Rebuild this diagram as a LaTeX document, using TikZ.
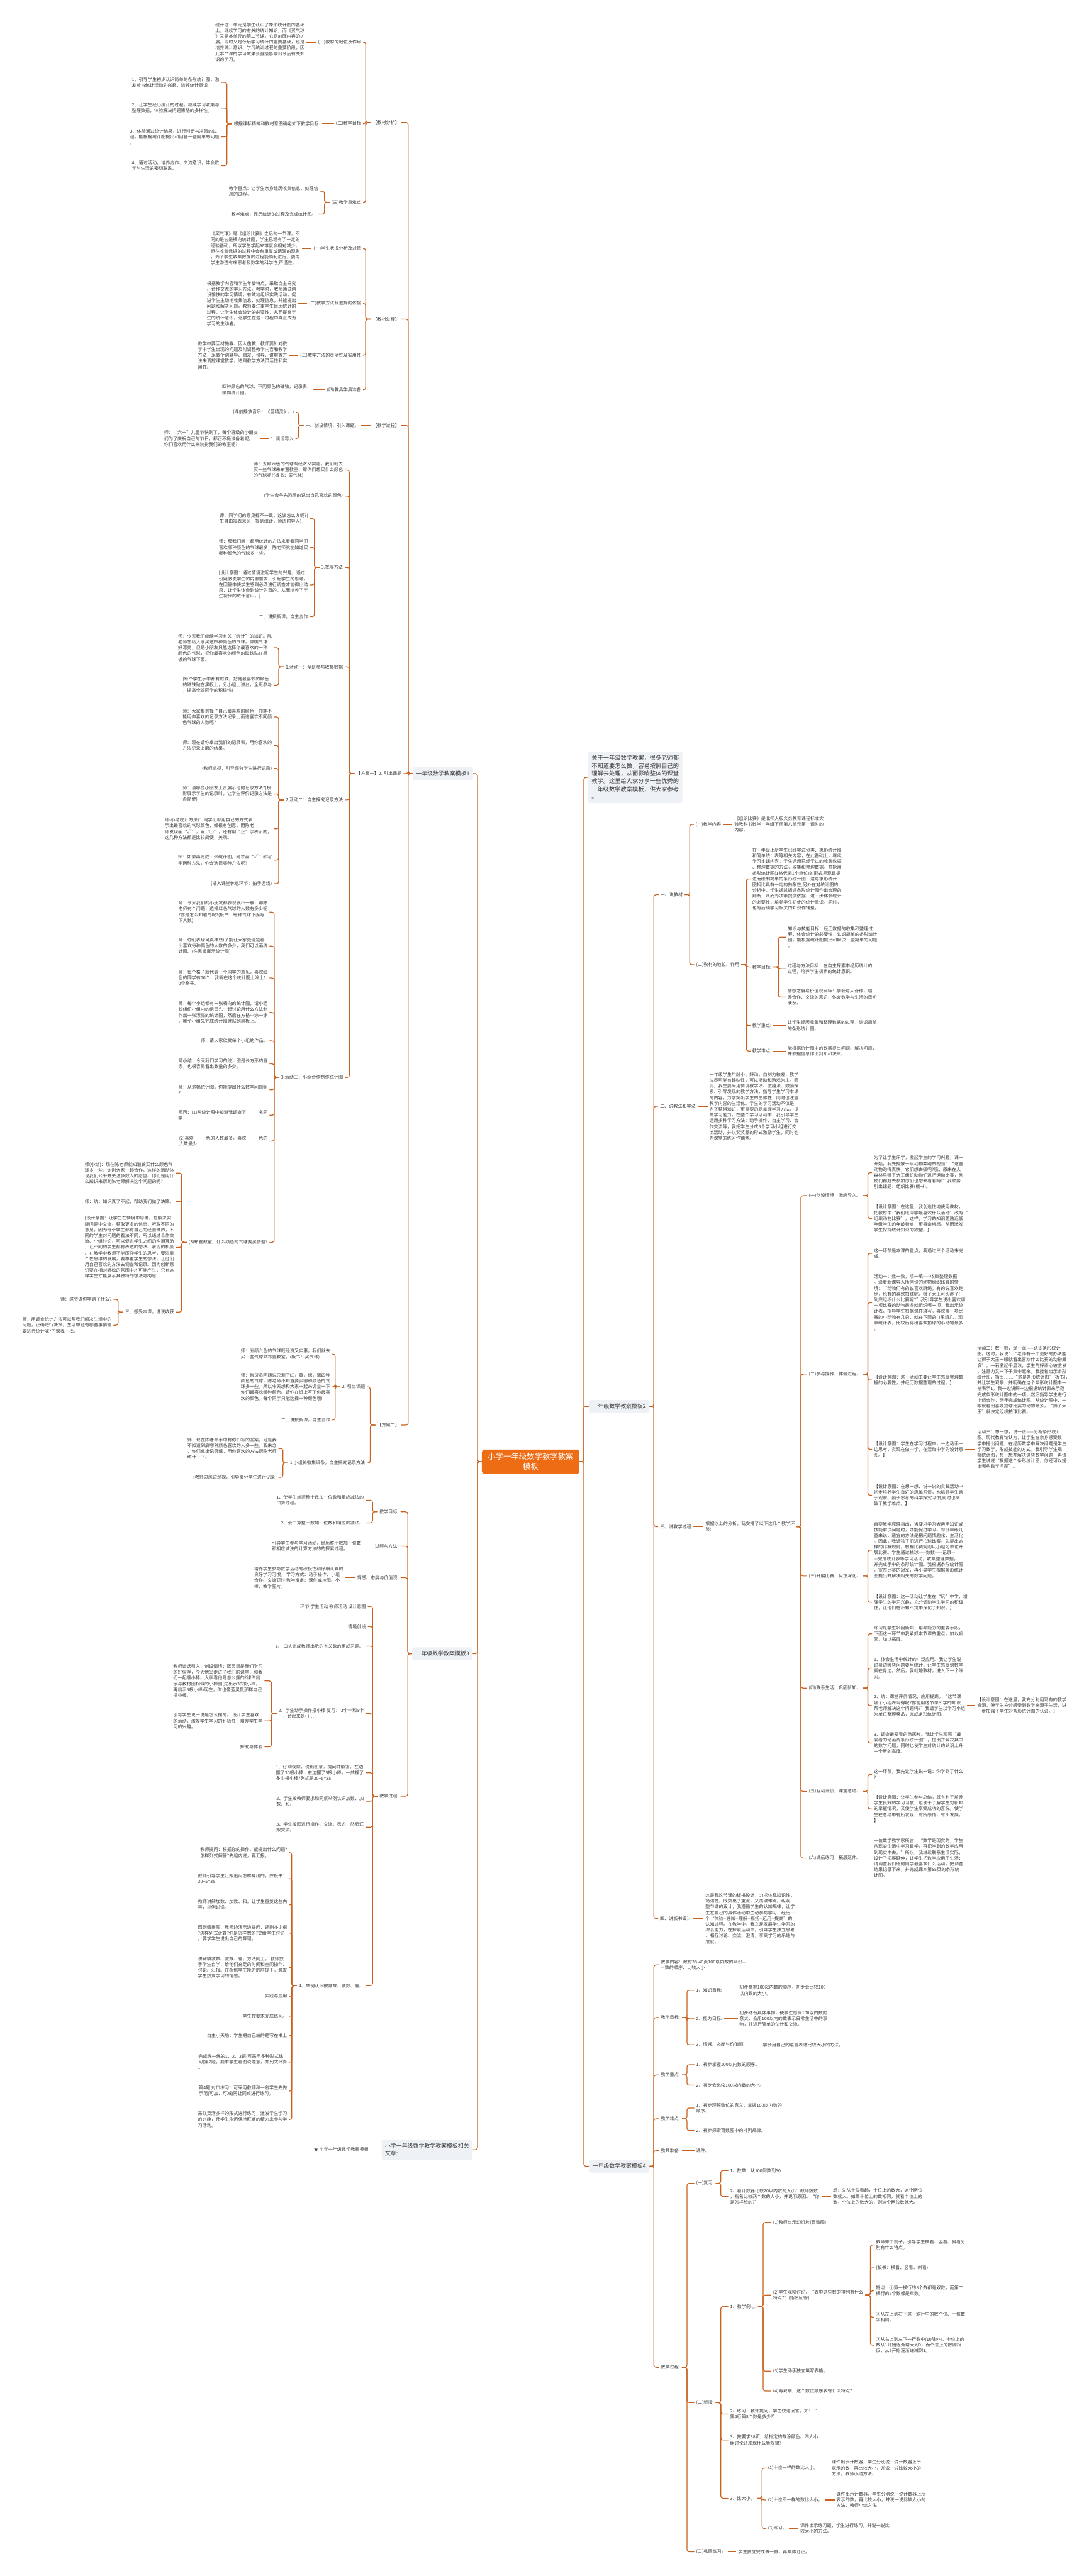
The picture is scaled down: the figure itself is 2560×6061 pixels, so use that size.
\documentclass[tikz,border=0pt]{standalone}
\usepackage{fontspec}
\setmainfont{Noto Sans CJK SC}
\definecolor{lnkc}{HTML}{C9621E}
\definecolor{rootc}{HTML}{EE6C14}
\definecolor{boxc}{HTML}{EEF1F5}
\definecolor{txtc}{HTML}{3A3A3A}
\begin{document}
\begin{tikzpicture}[x=0.5pt, y=-0.5pt,
  rootbox/.style={fill=rootc, text=white, rounded corners=3pt, inner xsep=7pt, inner ysep=4pt, align=center, font=\fontsize{9.15}{12}\selectfont},
  topic/.style={fill=boxc, text=txtc, rounded corners=2.5pt, inner xsep=4pt, inner ysep=4.5pt, align=left, font=\fontsize{6.6}{9}\selectfont},
  txt/.style={text=txtc, inner sep=2pt, align=left, font=\fontsize{5.25}{6.8}\selectfont},
  lt/.style={txt, anchor=east},
  rt/.style={txt, anchor=west},
  lnk/.style={draw=lnkc, line width=0.9pt, rounded corners=2.5pt}]
\useasboundingbox[fill=white] (0,0) rectangle (2560,6061);

\node[rootbox] (root) at (1248,3439) {小学一年级数学教学教案\\模板};
\node[topic, anchor=east] (m1) at (1113,1820) {一年级数学教案模板1};
\node[topic, anchor=east] (m3) at (1112,3891) {一年级数学教案模板3};
\node[topic, anchor=east] (rel) at (1112,5058) {小学一年级数学教学教案模板相关\\文章:};
\node[topic, anchor=west, font=\fontsize{6.85}{9.1}\selectfont] (intro) at (1383,1829) {关于一年级数学教案，很多老师都\\不知道要怎么做，容易按照自己的\\理解去处理，从而影响整体的课堂\\教学。这里给大家分享一些优秀的\\一年级数学教案模板，供大家参考\\。};
\node[topic, anchor=west] (m2) at (1385,3309) {一年级数学教案模板2};
\node[topic, anchor=west] (m4) at (1385,5097) {一年级数学教案模板4};
\foreach \c in {m1,m3,rel} \draw[lnk] (root.west) -- ++(-10,0) |- (\c.east);
\foreach \c in {intro,m2,m4} \draw[lnk] (root.east) -- ++(10,0) |- (\c.west);

% 模板1
\node[lt] (fx) at (944,288) {【教材分析】};
\node[lt] (fc) at (944,751) {【教材处理】};
\node[lt] (gc) at (944,1001) {【教学过程】};
\node[lt] (f1) at (949,1820) {【方案一】2. 引出课题};
\node[lt] (f2) at (944,3353) {【方案二】};
\foreach \c in {fx,fc,gc,f1,f2} \draw[lnk] (m1.west) -- ++(-10,0) |- (\c.east);

\node[lt] (fx1) at (854,99) {(一)教材的地位及作用};
\node[lt] (fx1a) at (721,99) {统计这一单元是学生认识了象形统计图的基础\\上，继续学习的有关的统计知识，而《买气球\\》又是本单元的第二节课，它是前面内容的扩\\展，同时又是今后学习统计的重要基础，也是\\培养统计意识、学习统计过程的重要阶段，因\\此本节课的学习效果会直接影响到今后有关知\\识的学习。};
\node[lt] (fx2) at (854,291) {(二)教学目标};
\node[lt] (fx2a) at (757,291) {根据课标精神和教材意图确定如下教学目标:};
\node[lt] (g1) at (520,194) {1、引导学生初步认识简单的条形统计图，激\\发参与统计活动的兴趣，培养统计意识。};
\node[lt] (g2) at (520,254) {2、让学生经历统计的过程，继续学习收集与\\整理数据，体验解决问题策略的多样性。};
\node[lt] (g3) at (520,322) {3、体验通过统计结果，进行判断与决策的过\\程，能根据统计图提出和回答一些简单的问题\\。};
\node[lt] (g4) at (520,390) {4、通过活动，培养合作、交流意识，体会数\\学与生活的密切联系。};
\node[lt] (fx3) at (854,476) {(三)教学重难点};
\node[lt] (fx3a) at (753,450) {教学重点：让学生亲身经历收集信息、处理信\\息的过程。};
\node[lt] (fx3b) at (748,504) {教学难点：经历统计的过程及完成统计图。};
\foreach \c in {fx1,fx2,fx3} \draw[lnk] (fx.west) -- ++(-12,0) |- (\c.east);
\draw[lnk] (fx1.west) -- (fx1a.east);
\draw[lnk] (fx2.west) -- (fx2a.east);
\foreach \c in {g1,g2,g3,g4} \draw[lnk] (fx2a.west) -- ++(-12,0) |- (\c.east);
\foreach \c in {fx3a,fx3b} \draw[lnk] (fx3.west) -- ++(-12,0) |- (\c.east);

\node[lt] (fc1) at (854,585) {(一)学生状况分析及对策};
\node[lt] (fc1a) at (710,585) {《买气球》是《组织比赛》之后的一节课，不\\同的是它是横向统计图，学生已经有了一定的\\经验基础，所以学生学起来难度会相对减少。\\但在收集数据的过程中会有重复或遗漏的现象\\，为了学生收集数据的过程能顺利进行，要向\\学生渗透有序思考及数学的科学性,严谨性。};
\node[lt] (fc2) at (854,714) {(二)教学方法及选择的依据};
\node[lt] (fc2a) at (701,714) {根据教学内容和学生年龄特点，采取自主探究\\、合作交流的学习方法。教学时，教师通过创\\设愉快的学习情境，有效地组织实践活动，促\\进学生主动地收集信息、处理信息，并能提出\\问题和解决问题。教师要注重学生经历统计的\\过程，让学生体会统计的必要性，从而提高学\\生的统计意识，让学生在这一过程中真正成为\\学习的主动者。};
\node[lt] (fc3) at (854,836) {(三)教学方法的灵活性及实用性};
\node[lt] (fc3a) at (680,836) {教学中要因材施教、因人施教，教师要针对教\\学中学生出现的问题及时调整教学内容和教学\\方法，采取个别辅导、启发、引导、讲解等方\\法来调控课堂教学，达到教学方法灵活性和实\\用性。};
\node[lt] (fc4) at (854,917) {(四)教具学具准备};
\node[lt] (fc4a) at (737,917) {四种颜色的气球，不同颜色的磁铁，记录表，\\横向统计图。};
\foreach \c in {fc1,fc2,fc3,fc4} \draw[lnk] (fc.west) -- ++(-12,0) |- (\c.east);
\draw[lnk] (fc1.west) -- (fc1a.east);
\draw[lnk] (fc2.west) -- (fc2a.east);
\draw[lnk] (fc3.west) -- (fc3a.east);
\draw[lnk] (fc4.west) -- (fc4a.east);

\node[lt] (gc1) at (849,1001) {一、创设情境，引入课题。};
\node[lt] (gc1a) at (696,970) {(课前播放音乐：《蓝精灵》。)};
\node[lt] (gc1b) at (695,1032) {1. 谈话导入};
\node[lt] (gc1c) at (611,1032) {师：“六一”儿童节快到了，每个班级的小朋友\\们为了庆祝自己的节日，都正积极准备着呢。\\你们喜欢用什么来装扮我们的教室呢?};
\draw[lnk] (gc.west) -- (gc1.east);
\foreach \c in {gc1a,gc1b} \draw[lnk] (gc1.west) -- ++(-12,0) |- (\c.east);
\draw[lnk] (gc1b.west) -- (gc1c.east);

% 方案一
\node[lt] (a1) at (811,1106) {师：五颜六色的气球既经济又实惠，我们就去\\买一些气球来布置教室，那你们想买什么颜色\\的气球呢?(板书：买气球)};
\node[lt] (a2) at (811,1167) {(学生会争先恐后的说出自己喜欢的颜色)};
\node[lt] (a3) at (811,1335) {3.找寻方法};
\node[lt] (a4) at (811,1569) {1.活动一：全班参与收集数据};
\node[lt] (a5) at (811,1882) {2.活动二：自主探究记录方法};
\node[lt] (a6) at (811,2535) {3.活动三：小组合作制作统计图};
\foreach \c in {a1,a2,a3,a4,a5,a6} \draw[lnk] (f1.west) -- ++(-12,0) |- (\c.east);

\node[lt] (a3a) at (729,1220) {师：同学们的意见都不一致，这该怎么办呢?(\\生自由发表意见，提到统计，师适时导入)};
\node[lt] (a3b) at (729,1288) {师：那我们就一起用统计的方法来看看同学们\\喜欢哪种颜色的气球最多，陈老师就能知道买\\哪种颜色的气球多一些。};
\node[lt] (a3c) at (729,1376) {[设计意图：通过情境激起学生的兴趣，通过\\设疑激发学生的内部需求，引起学生的思考，\\在回答中使学生感到必须进行调查才能得出结\\果，让学生体会到统计的目的，从而培养了学\\生初步的统计意识。]};
\node[lt] (a3d) at (729,1451) {二、讲授新课，自主合作};
\foreach \c in {a3a,a3b,a3c,a3d} \draw[lnk] (a3.west) -- ++(-12,0) |- (\c.east);

\node[lt] (a4a) at (644,1524) {师：今天我们继续学习有关“统计”的知识。陈\\老师想给大家买这四种颜色的气球，你瞧气球\\好漂亮，但是小朋友只能选择你最喜欢的一种\\颜色的气球，把你最喜欢的颜色的磁铁贴在黑\\板的气球下面。};
\node[lt] (a4b) at (644,1612) {(每个学生手中都有磁铁，把他最喜欢的颜色\\的磁铁贴在黑板上，分小组上讲台，全班参与\\，提高全班同学的积极性)};
\foreach \c in {a4a,a4b} \draw[lnk] (a4.west) -- ++(-12,0) |- (\c.east);

\node[lt] (a5a) at (644,1687) {师：大家都选择了自己最喜欢的颜色，你能不\\能用你喜欢的记录方法记录上面这喜欢不同颜\\色气球的人数呢?};
\node[lt] (a5b) at (644,1754) {师：现在请你拿出我们的记录表，用你喜欢的\\方法记录上面的结果。};
\node[lt] (a5c) at (644,1808) {(教师巡视，引导部分学生进行记录)};
\node[lt] (a5d) at (644,1868) {师：请哪位小朋友上台展示他的记录方法?(投\\影展示学生的记录时，让学生评价记录方法是\\否简便)};
\node[lt] (a5e) at (644,1950) {师(小结统计方法)：同学们都用自己的方式表\\示出最喜欢的气球颜色，都很有创意，而陈老\\师发现画“√”，画“○”，还有用“正”字表示的，\\这几种方法都是比较简便，美观。};
\node[lt] (a5f) at (644,2024) {师：如果再完成一张统计图，刚才画“√”和写\\字两种方法，你会选择哪种方法呢?};
\node[lt] (a5g) at (644,2079) {(插入课堂休息环节：拍手游戏)};
\foreach \c in {a5a,a5b,a5c,a5d,a5e,a5f,a5g} \draw[lnk] (a5.west) -- ++(-12,0) |- (\c.east);

\node[lt] (a6a) at (634,2146) {师：今天我们的小朋友都表现很不一般，那陈\\老师有个问题，选择红色气球的人数有多少呢\\?你是怎么知道的呢?(板书：每种气球下面写\\下人数)};
\node[lt] (a6b) at (634,2226) {师：你们表现可真棒!为了能让大家更清楚看\\出喜欢每种颜色的人数的多少，我们可以画统\\计图。(在黑板展示统计图)};
\node[lt] (a6c) at (634,2301) {师：每个格子就代表一个同学的意见，喜欢红\\色的同学有10个，我就在这个统计图上涂上1\\0个格子。};
\node[lt] (a6d) at (634,2382) {师：每个小组都有一张横向的统计图，请小组\\长组织小组内的组员先一起讨论用什么方法制\\作出一张漂亮的统计图，然后在方格中涂一涂\\。哪个小组先完成统计图就贴到黑板上。};
\node[lt] (a6e) at (634,2449) {师：请大家欣赏每个小组的作品。};
\node[lt] (a6f) at (634,2503) {师小结：今天我们学习的统计图是长方形的直\\条，也很容易看出数量的多少。};
\node[lt] (a6g) at (634,2564) {师：从这幅统计图，你能提出什么数学问题呢\\?};
\node[lt] (a6h) at (634,2624) {师问：(1)从统计图中知道我调查了\_\_\_\_\_名同\\学.};
\node[lt] (a6i) at (634,2685) {(2)喜欢\_\_\_\_\_色的人数最多，喜欢\_\_\_\_\_色的\\人数最少.};
\node[lt] (a6j) at (634,2923) {(3)布置教室，什么颜色的气球要买多些?};
\foreach \c in {a6a,a6b,a6c,a6d,a6e,a6f,a6g,a6h,a6i,a6j} \draw[lnk] (a6.west) -- ++(-12,0) |- (\c.east);

\node[lt] (b1) at (414,2760) {师(小结)：现在陈老师就知道该买什么颜色气\\球多一些，谢谢大家一起合作，这样的活动体\\现我们公平并关注多数人的愿望。你们是用什\\么知识来帮助陈老师解决这个问题的呢?};
\node[lt] (b2) at (414,2827) {师：统计知识真了不起，帮助我们做了决策。};
\node[lt] (b3) at (414,2935) {[设计意图：让学生在情境中思考，在解决实\\际问题中交流，获取更多的信息，听取不同的\\意见，因为每个学生都有自己的经验世界，不\\同的学生对问题的看法不同，所以通过合作交\\流、小组讨论，可以促进学生之间的沟通互助\\，让不同的学生都有表达的想法、表现的机会\\。在教学中教师不能压抑学生的思考，要注重\\个性思维的发展，要尊重学生的想法，让他们\\用自己喜欢的方法去调查和记录。因为创新意\\识要在相对轻松的氛围中才可能产生，只有这\\样学生才能展示其独特的想法与构思]};
\node[lt] (b4) at (414,3087) {三、感受本课，说说收获};
\foreach \c in {b1,b2,b3,b4} \draw[lnk] (a6j.west) -- ++(-12,0) |- (\c.east);
\node[lt] (b4a) at (267,3057) {师：这节课你学到了什么?};
\node[lt] (b4b) at (267,3118) {师：用调查统计方法可以帮我们解决生活中的\\问题，正确进行决策，生活中还有哪些事情需\\要进行统计呢?下课找一找。};
\foreach \c in {b4a,b4b} \draw[lnk] (b4.west) -- ++(-12,0) |- (\c.east);

% 方案二
\node[lt] (c1) at (863,3263) {2. 引出课题};
\node[lt] (c2) at (863,3442) {1.小组长收集纸条，自主探究记录方法};
\foreach \c in {c1,c2} \draw[lnk] (f2.west) -- ++(-12,0) |- (\c.east);
\node[lt] (c1a) at (781,3186) {师：五颜六色的气球既经济又实惠，我们就去\\买一些气球来布置教室。(板书：买气球)};
\node[lt] (c1b) at (781,3263) {师：售货员阿姨说只剩下红，黄，绿，蓝四种\\颜色的气球，陈老师不知道要买哪种颜色的气\\球多一些，所以今天想和大家一起来调查一下\\你们最喜欢哪种颜色。请你在纸上写下你最喜\\欢的颜色，每个同学只能选择一种颜色哦!};
\node[lt] (c1c) at (781,3341) {二、讲授新课，自主合作};
\foreach \c in {c1a,c1b,c1c} \draw[lnk] (c1.west) -- ++(-12,0) |- (\c.east);
\node[lt] (c2a) at (655,3408) {师：现在陈老师手中有你们写的答案，可是我\\不知道到底哪种颜色喜欢的人多一些，我来念\\，你们拿出记录纸，用你喜欢的方法帮陈老师\\统计一下。};
\node[lt] (c2b) at (655,3476) {(教师边念边巡视，引导部分学生进行记录)};
\foreach \c in {c2a,c2b} \draw[lnk] (c2.west) -- ++(-12,0) |- (\c.east);

% 模板3
\node[lt] (d1) at (942,3557) {教学目标:};
\node[lt] (d2) at (942,3638) {过程与方法:};
\node[lt] (d3) at (942,3712) {情感、态度与价值观:};
\node[lt] (d4) at (942,4226) {教学过程:};
\foreach \c in {d1,d2,d3,d4} \draw[lnk] (m3.west) -- ++(-10,0) |- (\c.east);
\node[lt] (d1a) at (860,3530) {1、使学生掌握整十数加一位数和相应减法的\\口算过程。};
\node[lt] (d1b) at (860,3583) {2、会口算整十数加一位数和相应的减法。};
\foreach \c in {d1a,d1b} \draw[lnk] (d1.west) -- ++(-12,0) |- (\c.east);
\node[lt] (d2a) at (854,3638) {引导学生参与学习活动，经历整十数加一位数\\和相应减法的计算方法的的探索过程。};
\node[lt] (d3a) at (812,3712) {培养学生参与数学活动的积极性和仔细认真的\\良好学习习惯。 学习方式：动手操作、小组\\合作、交流研讨 教学准备：课件或挂图、小\\棒、教学图片。};
\draw[lnk] (d2.west) -- (d2a.east);
\draw[lnk] (d3.west) -- (d3a.east);

\node[lt] (e1) at (865,3780) {环节 学生活动 教师活动 设计意图};
\node[lt] (e2) at (865,3827) {情境创设};
\node[lt] (e3) at (860,3873) {1、 口头完成教师出示的有关数的组成习题。};
\node[lt] (e4) at (860,4032) {2、学生动手操作摆小棒 复习： 3个十和5个\\一，合起来是( )……};
\node[lt] (e5) at (860,4171) {1、仔细观察，说出图意，提问并解答。左边\\摆了30根小棒，右边摆了5根小棒，一共摆了\\多少根小棒?列式是30+5=35};
\node[lt] (e6) at (860,4238) {2、学生按教师要求和同桌举例认识加数、加\\数、和。};
\node[lt] (e7) at (860,4299) {3、学生按图进行操作、交流、表达，然后汇\\报交流。};
\node[lt] (e8) at (860,4672) {4、举例认识被减数、减数、差。};
\foreach \c in {e1,e2,e3,e4,e5,e6,e7,e8} \draw[lnk] (d4.west) -- ++(-12,0) |- (\c.east);
\node[lt] (e4a) at (622,3955) {教师谈话引入，创设情境：蓝灵鼠是我们学习\\的好伙伴，今天他又走进了我们的课堂，和我\\们一起摆小棒。大家看他是怎么摆的?课件出\\示与教材图相似的小棒图(先出示30根小棒，\\再出示5根小棒)现在，你也像蓝灵鼠那样自己\\摆小棒。};
\node[lt] (e4b) at (622,4049) {引导学生说一说是怎么摆的。 设计学生喜欢\\的活动，激发学生学习的积极性，培养学生学\\习的兴趣。};
\node[lt] (e4c) at (622,4110) {探究与体验};
\foreach \c in {e4a,e4b,e4c} \draw[lnk] (e4.west) -- ++(-12,0) |- (\c.east);

\node[lt] (h1) at (680,4359) {教师提问：根据你的操作，能提出什么问题?\\怎样列式解答?先组内说，再汇报。};
\node[lt] (h2) at (680,4420) {教师引导学生汇报追问怎样算出的，并板书：\\30+5=35};
\node[lt] (h3) at (680,4481) {教师讲解加数、加数、和。让学生重复这些内\\容，举例说说。};
\node[lt] (h4) at (680,4548) {回到情景图，教师边演示边提问，还剩多少根\\?怎样列式计算?你是怎样想的?交给学生讨论\\。要求学生说出自己的算理。};
\node[lt] (h5) at (680,4629) {讲解被减数、减数、差。方法同上。 教师放\\手学生自学，给他们充足的时间和空间操作、\\讨论、汇报。在相信学生能力的前提下，激发\\学生热爱学习的情感。};
\node[lt] (h6) at (680,4697) {实践与应用};
\node[lt] (h7) at (680,4744) {学生按要求完成练习。};
\node[lt] (h8) at (680,4790) {自主小天地：学生把自己编的题写在书上};
\node[lt] (h9) at (680,4852) {完成练一练的1、2、3题(可采用多种形式练\\习)第2题，要求学生看图说题意，并列式计算\\。};
\node[lt] (h10) at (680,4920) {第4题 对口练习：可采用教师和一名学生先做\\示范(可加、可减)再让同桌进行练习。};
\node[lt] (h11) at (680,4987) {采取灵活多样的形式进行练习，激发学生学习\\的兴趣，使学生永远保持旺盛的精力来参与学\\习活动。};
\foreach \c in {h1,h2,h3,h4,h5,h6,h7,h8,h9,h10,h11} \draw[lnk] (e8.west) -- ++(-12,0) |- (\c.east);

\node[lt] (rel1) at (871,5058) {★ 小学一年级数学教案模板};
\draw[lnk] (rel.west) -- (rel1.east);

% 模板2
\node[rt] (s1) at (1549,2105) {一、说教材};
\node[rt] (s2) at (1548,2603) {二、说教法和学法};
\node[rt] (s3) at (1548,3592) {三、说教学过程};
\node[rt] (s4) at (1548,4514) {四、说板书设计};
\foreach \c in {s1,s2,s3,s4} \draw[lnk] (m2.east) -- ++(10,0) |- (\c.west);

\node[rt] (s11) at (1632,1940) {(一)教学内容};
\node[rt] (s11a) at (1723,1940) {《组织比赛》是北师大版义务教育课程标准实\\验教科书数学一年级下册第八单元第一课时的\\内容。};
\node[rt] (s12) at (1633,2270) {(二)教材的地位、作用};
\foreach \c in {s11,s12} \draw[lnk] (s1.east) -- ++(12,0) |- (\c.west);
\draw[lnk] (s11.east) -- (s11a.west);
\node[rt] (s12a) at (1765,2068) {在一年级上册学生已经学过分类、象形统计图\\和简单统计表等相关内容，在此基础上，继续\\学习本课内容。学生运用已经学过的收集数据\\、整理数据的方法，收集和整理数据，并能用\\条形统计图(1格代表1个单位)的形式呈现数据\\进而绘制简单的条形统计图，这与象形统计\\图相比具有一定的抽象性;另外在对统计图的\\分析中，学生通过阅读条形统计图作出合理的\\判断，从而为决策提供依据，进一步体会统计\\的必要性，培养学生初步的统计意识。同时，\\也为后续学习相关的知识作铺垫。};
\node[rt] (s12b) at (1765,2275) {教学目标:};
\node[rt] (s12c) at (1765,2413) {教学重点:};
\node[rt] (s12d) at (1765,2473) {教学难点:};
\foreach \c in {s12a,s12b,s12c,s12d} \draw[lnk] (s12.east) -- ++(12,0) |- (\c.west);
\node[rt] (s12b1) at (1849,2205) {知识与技能目标：经历数据的收集和整理过\\程，体会统计的必要性，认识简单的条形统计\\图，能根据统计图提出和解决一些简单的问题\\。};
\node[rt] (s12b2) at (1848,2279) {过程与方法目标：在自主探索中经历统计的\\过程，培养学生初步的统计意识。};
\node[rt] (s12b3) at (1848,2346) {情感态度与价值观目标：学会与人合作，培\\养合作、交流的意识，体会数学与生活的密切\\联系。};
\foreach \c in {s12b1,s12b2,s12b3} \draw[lnk] (s12b.east) -- ++(12,0) |- (\c.west);
\node[rt] (s12c1) at (1848,2413) {让学生经历收集和整理数据的过程，认识简单\\的条形统计图。};
\node[rt] (s12d1) at (1848,2473) {能根据统计图中的数据提出问题、解决问题，\\并依据信息作出判断和决策。};
\draw[lnk] (s12c.east) -- (s12c1.west);
\draw[lnk] (s12d.east) -- (s12d1.west);

\node[rt] (s2a) at (1664,2603) {一年级学生年龄小、好动、自制力较差，教学\\应尽可能有趣味性，可以活动和游戏为主。因\\此，我主要采用情境教学法、激趣法、鼓励探\\索、引导发现的教学方法，指导学生学习本课\\的内容，力求突出学生的主体性，同时也注重\\教学内容的生活化。学生的学习活动不仅是\\为了获得知识，更重要的是掌握学习方法，提\\高学习能力。在整个学习活动中，我引导学生\\运用多种学习方法：动手操作、自主学习、合\\作交流等，我把学生分成5个学习小组进行交\\流活动，并以奖奖品的形式激励学生，同时也\\为课堂的练习作铺垫。};
\draw[lnk] (s2.east) -- (s2a.west);

\node[rt] (s3a) at (1655,3592) {根据以上的分析，我安排了以下这几个教学环\\节:};
\draw[lnk] (s3.east) -- (s3a.west);
\node[rt] (p1) at (1898,2813) {(一)创设情境，激趣导入。};
\node[rt] (p2) at (1898,3233) {(二)参与操作，体验过程。};
\node[rt] (p3) at (1898,3708) {(三)开展比赛，反馈深化。};
\node[rt] (p4) at (1898,3972) {(四)联系生活，巩固新知。};
\node[rt] (p5) at (1898,4215) {(五)互动评价，课堂总结。};
\node[rt] (p6) at (1898,4372) {(六)课后练习，拓展延伸。};
\foreach \c in {p1,p2,p3,p4,p5,p6} \draw[lnk] (s3a.east) -- ++(10,0) |- (\c.west);

\node[rt] (p1a) at (2051,2759) {为了让学生乐学，激起学生的学习兴趣，课一\\开始，我先播放一段动物奔跑的视频：“这些\\动物跑得真快，它们想去哪呢?哦，原来在大\\森林里狮子大王组织动物们进行运动比赛，动\\物们都赶去参加你们也想去看看吗?”我顺势\\引出课题：组织比赛(板书)。};
\node[rt] (p1b) at (2051,2867) {【设计意图：在这里，我创造性地使用教材，\\把教材中“我们班同学最喜欢什么活动”改为“\\组织动物比赛”，这样，学习的知识更贴近低\\年级学生的年龄特点，更具亲切感，从而激发\\学生探究统计知识的欲望。】};
\foreach \c in {p1a,p1b} \draw[lnk] (p1.east) -- ++(12,0) |- (\c.west);

\node[rt] (p2a) at (2051,2949) {这一环节是本课的重点，我通过三个活动来完\\成。};
\node[rt] (p2b) at (2051,3065) {活动一：数一数，填一填——收集整理数据\\。沿着新课导入所创设的动物组织比赛的情\\境：“动物们有的说喜欢跳绳，有的说喜欢跑\\步，也有的喜欢拍球呢，狮子大王可头疼了!\\到底组织什么比赛呢?”我引导学生说出喜欢哪\\一项比赛的动物最多就组织哪一项。我出示统\\计表，指导学生根据课件填写，喜欢哪一项比\\赛的小动物有几只，就在下面的( )里填几。观\\察统计表，比较后得出喜欢拍球的小动物最多\\。};
\node[rt] (p2c) at (2051,3247) {【设计意图：这一活动主要让学生感受整理数\\据的必要性，并经历数据整理的过程。】};
\node[rt] (p2d) at (2051,3410) {【设计意图：学生在学习过程中，一边动手一\\边思考，实现在做中学，在活动中学的设计意\\图。】};
\node[rt] (p2e) at (2051,3518) {【设计意图：在想一想、说一说的实践活动中\\初步培养学生良好的思维习惯，也培养学生善\\于观察、勤于思考的科学探究习惯,同时也突\\破了教学难点。】};
\foreach \c in {p2a,p2b,p2c,p2d,p2e} \draw[lnk] (p2.east) -- ++(12,0) |- (\c.west);
\node[rt] (p2c1) at (2294,3247) {活动二：数一数，涂一涂——认识条形统计\\图。这时，我说：“老师有一个更好的办法能\\让狮子大王一眼就看出喜欢什么比赛的动物最\\多”，一石激起千层浪，学生的好奇心被激发\\，注意力又一下子集中起来。我接着出示条形\\统计图，指出……“这是条形统计图”(板书)，\\并让学生观察，并明确在这个条形统计图中一\\格表示1。我一边讲解一边根据统计表来示范\\完成条形统计图中的一项，然后指导学生进行\\小组合作，动手完成统计图。从统计图中，一\\眼就看出喜欢拍球比赛的动物最多，“狮子大\\王”就决定组织拍球比赛。};
\node[rt] (p2d1) at (2294,3410) {活动三：想一想，说一说——分析条形统计\\图。现代教育论认为，让学生在亲身感受数\\学中提出问题，在经历数学中解决问题是学生\\学习数学，形成技能的方式。我引导学生观\\察统计图，想一想并解决这些数学问题，再请\\学生说说“根据这个条形统计图，你还可以提\\出哪些数学问题”。};
\draw[lnk] (p2c.east) -- (p2c1.west);
\draw[lnk] (p2d.east) -- (p2d1.west);

\node[rt] (p3a) at (2051,3647) {首要教学原理指出，当要求学习者运用知识或\\技能解决问题时，才能促进学习。对低年级儿\\童来说，适宜的方法是把问题情趣化，生活化\\。因此，我请孩子们进行拍球比赛，先提出这\\样的比赛规则，根据比赛规则以小组为单位开\\展比赛。学生通过拍球——数数——记录—\\—完成统计表等学习活动，收集整理数据，\\并完成手中的条形统计图。我根据条形统计图\\，宣布比赛的冠军，再引导学生根据条形统计\\图提出并解决相关的数学问题。};
\node[rt] (p3b) at (2051,3770) {【设计意图：这一活动让学生在“玩”中学，增\\强学生的学习兴趣，充分调动学生学习的积极\\性，让他们在不知不觉中深化了知识。】};
\foreach \c in {p3a,p3b} \draw[lnk] (p3.east) -- ++(12,0) |- (\c.west);

\node[rt] (p4a) at (2051,3844) {练习是学生巩固新知，培养能力的重要手段，\\下面这一环节中我紧抓本节课的重点，加以巩\\固，加以拓展。};
\node[rt] (p4b) at (2051,3925) {1、体会生活中统计的广泛应用。我让学生说\\说身边哪些问题要用统计，让学生感受到数学\\就在身边。然后，我就地取材，进入下一个练\\习。};
\node[rt] (p4c) at (2051,4013) {2、统计课堂评价情况，应用提高。“这节课\\哪个小组表现得呢?你能用这节课所学的知识\\帮老师解决这个问题吗?”我请学生以学习小组\\为单位整理奖品，完成条形统计图。};
\node[rt] (p4d) at (2051,4101) {3、调查最爱看的动画片。我让学生观察“最\\爱看的动画片条形统计图”，提出并解决其中\\的数学问题，同时也使学生对统计的认识上升\\一个新的高度。};
\foreach \c in {p4a,p4b,p4c,p4d} \draw[lnk] (p4.east) -- ++(12,0) |- (\c.west);
\node[rt] (p4c1) at (2294,4013) {【设计意图：在这里，我充分利用现有的教学\\资源，使学生充分感受到数学来源于生活，进\\一步加强了学生对条形统计图的认识。】};
\draw[lnk] (p4c.east) -- (p4c1.west);

\node[rt] (p5a) at (2051,4175) {这一环节，我先让学生说一说：你学到了什么\\?};
\node[rt] (p5b) at (2051,4256) {【设计意图：让学生参与总结，既有利于培养\\学生良好的学习习惯，也便于了解学生对新知\\的掌握情况，又使学生享受成功的喜悦。使学\\生在总结中有所发现，有所感悟，有所发展。\\】};
\foreach \c in {p5a,p5b} \draw[lnk] (p5.east) -- ++(12,0) |- (\c.west);
\node[rt] (p6a) at (2051,4372) {一位数学教学家所言：“数学是现实的，学生\\从现实生活中学习数学，再把学到的数学应用\\到现实中去。”所以，我继续联系生活实际，\\设计了拓展延伸，让学生把数学应用于生活：\\请调查我们班的同学最喜欢什么活动，把调查\\结果记录下来，并完成课本第85页的条形统\\计图。};
\draw[lnk] (p6.east) -- (p6a.west);

\node[rt] (s4a) at (1655,4514) {这是我这节课的板书设计，力求体现知识性，\\简洁性，既突出了重点，又击破难点。纵观\\整节课的设计，我遵循学生的认知规律，让学\\生在自己的具体活动中主动参与学习，经历一\\个“体验-{}-感知-{}-理解-{}-概括-{}-运用-{}-提高”的\\认知过程。在教学中，我立足发展学生学习的\\综合能力，在探索活动中，引导学生独立思考\\，相互讨论、交流、澄清，享受学习的乐趣与\\成就。};
\draw[lnk] (s4.east) -- (s4a.west);

% 模板4
\node[rt] (q1) at (1550,4623) {教学内容：教材38-40页100以内数的认识—\\—数的顺序、比较大小};
\node[rt] (q2) at (1550,4747) {教学目标:};
\node[rt] (q3) at (1550,4882) {教学重点:};
\node[rt] (q4) at (1550,4985) {教学难点:};
\node[rt] (q5) at (1550,5060) {教具准备:};
\node[rt] (q6) at (1550,5570) {教学过程:};
\foreach \c in {q1,q2,q3,q4,q5,q6} \draw[lnk] (m4.east) -- ++(10,0) |- (\c.west);

\node[rt] (q21) at (1633,4683) {1、知识目标:};
\node[rt] (q21a) at (1735,4683) {初步掌握100以内数的顺序，初步会比较100\\以内数的大小。};
\node[rt] (q22) at (1633,4750) {2、能力目标:};
\node[rt] (q22a) at (1735,4750) {初步结合具体事物，使学生感受100以内数的\\意义，会用100以内的数表示日常生活中的事\\物，并进行简单的估计和交流。};
\node[rt] (q23) at (1633,4811) {3、情感、态度与价值观:};
\node[rt] (q23a) at (1790,4811) {学会用自己的语言表述比较大小的方法。};
\foreach \c in {q21,q22,q23} \draw[lnk] (q2.east) -- ++(12,0) |- (\c.west);
\draw[lnk] (q21.east) -- (q21a.west);
\draw[lnk] (q22.east) -- (q22a.west);
\draw[lnk] (q23.east) -- (q23a.west);
\node[rt] (q31) at (1633,4858) {1、初步掌握100以内数的顺序。};
\node[rt] (q32) at (1633,4906) {2、初步会比较100以内数的大小。};
\foreach \c in {q31,q32} \draw[lnk] (q3.east) -- ++(12,0) |- (\c.west);
\node[rt] (q41) at (1633,4960) {1、初步理解数位的意义，掌握100以内数的\\顺序。};
\node[rt] (q42) at (1633,5013) {2、初步探索百数图中的排列规律。};
\foreach \c in {q41,q42} \draw[lnk] (q4.east) -- ++(12,0) |- (\c.west);
\node[rt] (q51) at (1633,5060) {课件。};
\draw[lnk] (q5.east) -- (q51.west);

\node[rt] (r1) at (1633,5137) {(一)复习:};
\node[rt] (r2) at (1633,5653) {(二)新授:};
\node[rt] (r3) at (1633,6004) {(三)巩固练习。};
\foreach \c in {r1,r2,r3} \draw[lnk] (q6.east) -- ++(12,0) |- (\c.west);
\node[rt] (r11) at (1713,5107) {1、数数：从100倒数到50};
\node[rt] (r12) at (1713,5168) {2、看计数器比较20以内数的大小：教师拨数\\，指名比较两个数的大小，并说明原因。“你\\是怎样想的?”};
\node[rt] (r12a) at (1955,5168) {想：先从十位看起，十位上的数大，这个两位\\数就大。如果十位上的数相同，就看个位上的\\数，个位上的数大的，则这个两位数就大。};
\foreach \c in {r11,r12} \draw[lnk] (r1.east) -- ++(12,0) |- (\c.west);
\draw[lnk] (r12.east) -- (r12a.west);

\node[rt] (r21) at (1713,5427) {1、教学例七:};
\node[rt] (r22) at (1713,5680) {2、练习：教师提问，学生快速回答。如：“\\第4行第8个数是多少?”};
\node[rt] (r23) at (1713,5741) {3、按要求38页，给指定的数涂颜色。四人小\\组讨论还发现什么新规律?};
\node[rt] (r24) at (1713,5878) {3、比大小。};
\foreach \c in {r21,r22,r23,r24} \draw[lnk] (r2.east) -- ++(12,0) |- (\c.west);
\node[rt] (r211) at (1814,5229) {(1)教师出示幻灯片(百数图)};
\node[rt] (r212) at (1814,5400) {(2)学生观察讨论，“表中这些数的排列有什么\\特点?”(指名回答)};
\node[rt] (r213) at (1814,5579) {(3)学生动手独立填写表格。};
\node[rt] (r214) at (1814,5626) {(4)再观察，这个数位顺序表有什么特点?};
\foreach \c in {r211,r212,r213,r214} \draw[lnk] (r21.east) -- ++(12,0) |- (\c.west);
\node[rt] (r2121) at (2056,5282) {教师举个例子，引导学生横看、竖看、斜看分\\别有什么特点。};
\node[rt] (r2122) at (2056,5336) {(板书：横看、竖看、斜看)};
\node[rt] (r2123) at (2056,5390) {特点：①第一横行的5个数都是双数，而第二\\横行的5个数都是单数。};
\node[rt] (r2124) at (2056,5452) {②从左上到右下这一斜行中的数个位、十位数\\字相同。};
\node[rt] (r2125) at (2056,5518) {③从右上到左下一行数中(10除外)，十位上的\\数从1开始逐渐增大到9，而个位上的数则相\\反，从9开始逐渐递减到1。};
\foreach \c in {r2121,r2122,r2123,r2124,r2125} \draw[lnk] (r212.east) -- ++(12,0) |- (\c.west);

\node[rt] (r241) at (1802,5807) {(1)十位一样的数比大小。};
\node[rt] (r241a) at (1952,5807) {课件出示计数器，学生分别说一说计数器上所\\表示的数，再比较大小，并说一说比较大小的\\方法，教师小结方法。};
\node[rt] (r242) at (1802,5882) {(2)十位不一样的数比大小。};
\node[rt] (r242a) at (1963,5882) {课件出示计数器，学生分别说一说计数器上所\\表示的数，再比较大小，并说一说比较大小的\\方法，教师小结方法。};
\node[rt] (r243) at (1802,5949) {(3)练习。};
\node[rt] (r243a) at (1878,5949) {课件出示练习题，学生进行练习，并说一说比\\较大小的方法。};
\foreach \c in {r241,r242,r243} \draw[lnk] (r24.east) -- ++(12,0) |- (\c.west);
\draw[lnk] (r241.east) -- (r241a.west);
\draw[lnk] (r242.east) -- (r242a.west);
\draw[lnk] (r243.east) -- (r243a.west);
\node[rt] (r3a) at (1732,6004) {学生独立完成做一做，再集体订正。};
\draw[lnk] (r3.east) -- (r3a.west);
\end{tikzpicture}
\end{document}
